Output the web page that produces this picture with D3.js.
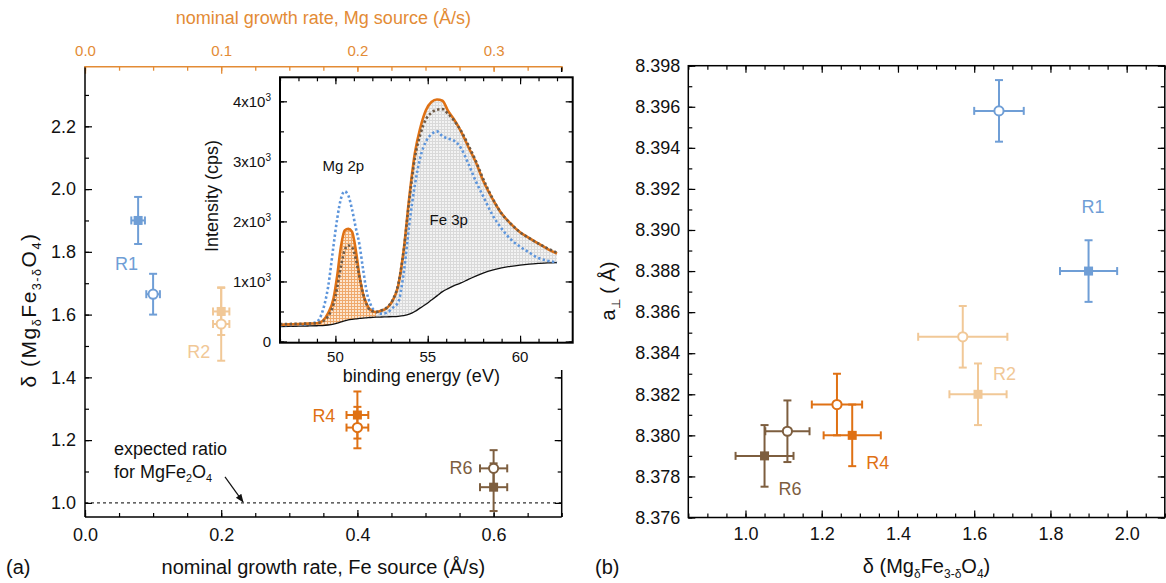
<!DOCTYPE html>
<html><head><meta charset="utf-8">
<script src="https://cdn.jsdelivr.net/npm/d3@7"></script>
<style>body{margin:0;background:#fff} text{font-family:"Liberation Sans",Arial,Helvetica,sans-serif}</style>
</head><body><svg id="c" width="1166" height="583"></svg>
<script>
// ---------------- data ----------------
const samples = ["R1", "R2", "R4", "R6"];
const feRateSq = [0.078, 0.20, 0.40, 0.60];
const feRateCi = [0.100, 0.20, 0.40, 0.60];
const feRateErr = [0.010, 0.012, 0.016, 0.020];
const deltaSq = [1.90, 1.61, 1.28, 1.05];
const deltaSqErr = [0.075, 0.075, 0.075, 0.076];
const deltaCi = [1.665, 1.57, 1.24, 1.11];
const deltaCiErr = [0.065, 0.117, 0.066, 0.058];
const aPerpSq = [8.3880, 8.3820, 8.3800, 8.3790];
const aPerpCi = [8.3958, 8.3848, 8.3815, 8.3802];
const aPerpErr = [0.0015, 0.0015, 0.0015, 0.0015];
const expectedDelta = 1.0;

// XPS inset spectra
const energy =        [47.0,47.5,48.0,48.5,49.0,49.3,49.6,49.9,50.1,50.3,50.5,50.7,50.9,51.1,51.3,51.5,51.7,51.9,52.2,52.5,52.8,53.1,53.4,53.7,54.0,54.3,54.6,54.9,55.2,55.5,55.8,56.1,56.4,56.8,57.2,57.6,58.0,58.5,59.0,59.5,60.0,60.5,61.0,61.5,62.0];
const specOrange =    [ 280, 285, 290, 298, 305, 340, 470, 720,1100,1580,1850,1875,1830,1530,1100, 790, 620, 525, 490, 515, 560, 680, 930,1530,2400,3130,3560,3850,3990,4030,4010,3840,3710,3500,3240,2990,2680,2380,2130,1960,1820,1720,1630,1540,1465];
const specBrown =     [ 290, 292, 295, 300, 305, 330, 420, 620, 900,1250,1520,1600,1570,1380,1080, 800, 610, 520, 495, 520, 570, 690, 950,1520,2350,3050,3450,3700,3810,3860,3870,3790,3690,3510,3270,3010,2710,2390,2130,1960,1820,1720,1630,1550,1480];
const specBlue =      [ 270, 275, 280, 290, 330, 500, 900,1600,2050,2380,2500,2430,2200,1900,1620,1200, 820, 620, 490, 465, 480, 560, 650,1150,1950,2600,3070,3330,3450,3500,3420,3380,3350,3220,2960,2670,2420,2110,1880,1700,1580,1480,1390,1345,1315];
const specBackground= [ 250, 252, 255, 258, 262, 266, 275, 290, 305, 325, 345, 360, 370, 378, 384, 390, 395, 400, 405, 408, 411, 414, 420, 432, 455, 500, 560, 620, 690, 760, 830, 880, 925, 975,1035,1090,1140,1190,1225,1252,1272,1288,1300,1310,1315];

// tick labels
const feTicks = [0.0, 0.2, 0.4, 0.6];
const mgTicks = [0.0, 0.1, 0.2, 0.3];
const deltaTicksA = [1.0, 1.2, 1.4, 1.6, 1.8, 2.0, 2.2];
const deltaTicksB = [1.0, 1.2, 1.4, 1.6, 1.8, 2.0];
const aTicks = [8.376, 8.378, 8.380, 8.382, 8.384, 8.386, 8.388, 8.390, 8.392, 8.394, 8.396, 8.398];
const eTicks = [50, 55, 60];
const iTicks = [0, 1000, 2000, 3000, 4000];

// ---------------- style ----------------
const colors = ["#6f9ed6", "#f1c897", "#df7114", "#7d5e3f"];
const mgColor = "#e38b35";
const FONT = 18;

const svg = d3.select("#c");
const defs = svg.append("defs");

// helpers
function addSubText(sel, parts, size) {
  let pending = 0;
  parts.forEach(p => {
    const t = sel.append("tspan").text(p[0]);
    if (p[1] === "sub") {
      t.attr("font-size", size * 0.6).attr("dy", pending + size * 0.24);
      pending = -size * 0.24;
    } else if (p[1] === "sup") {
      t.attr("font-size", size * 0.62).attr("dy", pending - size * 0.42);
      pending = size * 0.42;
    } else {
      t.attr("font-size", size);
      if (pending !== 0) t.attr("dy", pending);
      pending = 0;
    }
  });
}
function minorAxis(axisFn, scale, step, size, g) {
  const [d0, d1] = scale.domain();
  const vals = d3.range(Math.ceil(Math.min(d0, d1) / step - 1e-9) * step, Math.max(d0, d1) + 1e-9, step);
  g.call(axisFn(scale).tickValues(vals).tickSizeInner(size).tickSizeOuter(0).tickFormat(""));
  g.select(".domain").remove();
  g.selectAll("text").remove();
  g.selectAll("line").attr("stroke", "#000").attr("stroke-width", 1.2);
}
function errBars(g, cx, cy, x0, x1, y0, y1, color, cap) {
  const gg = g.append("g").attr("stroke", color).attr("stroke-width", 2).attr("fill", "none");
  gg.append("line").attr("x1", x0).attr("x2", x1).attr("y1", cy).attr("y2", cy);
  gg.append("line").attr("x1", cx).attr("x2", cx).attr("y1", y0).attr("y2", y1);
  gg.append("line").attr("x1", x0).attr("x2", x0).attr("y1", cy - cap).attr("y2", cy + cap);
  gg.append("line").attr("x1", x1).attr("x2", x1).attr("y1", cy - cap).attr("y2", cy + cap);
  gg.append("line").attr("x1", cx - cap).attr("x2", cx + cap).attr("y1", y0).attr("y2", y0);
  gg.append("line").attr("x1", cx - cap).attr("x2", cx + cap).attr("y1", y1).attr("y2", y1);
}
function square(g, cx, cy, color) {
  g.append("rect").attr("x", cx - 4.5).attr("y", cy - 4.5).attr("width", 9).attr("height", 9).attr("fill", color);
}
function circle(g, cx, cy, color) {
  g.append("circle").attr("cx", cx).attr("cy", cy).attr("r", 4.6).attr("fill", "#fff").attr("stroke", color).attr("stroke-width", 2);
}

// ================= PANEL (a) =================
const aL = 85, aR = 561.7, aT = 66.7, aB = 517;
const xA = d3.scaleLinear([0, 0.7], [aL, aR]);
const xTop = d3.scaleLinear([0, 0.35], [aL, aR]);
const yA = d3.scaleLinear([0.955, 2.39], [aB, aT]);

const gA = svg.append("g");

gA.append("line").attr("x1", aL).attr("x2", aR).attr("y1", yA(expectedDelta)).attr("y2", yA(expectedDelta))
  .attr("stroke", "#333").attr("stroke-width", 1.3).attr("stroke-dasharray", "3,3");

minorAxis(d3.axisBottom, xA, 0.05, -4, gA.append("g").attr("transform", `translate(0,${aB})`));
minorAxis(d3.axisLeft, yA, 0.1, -4, gA.append("g").attr("transform", `translate(${aL},0)`));
minorAxis(d3.axisRight, yA, 0.1, -4, gA.append("g").attr("transform", `translate(${aR},0)`));
minorAxis(d3.axisLeft, yA, 0.2, -7, gA.append("g").attr("transform", `translate(${aL},0)`));
minorAxis(d3.axisRight, yA, 0.2, -7, gA.append("g").attr("transform", `translate(${aR},0)`));
minorAxis(d3.axisBottom, xA, 0.2, -7, gA.append("g").attr("transform", `translate(0,${aB})`));

const axBA = gA.append("g").attr("transform", `translate(0,${aB})`)
  .call(d3.axisBottom(xA).tickValues(feTicks).tickSize(0).tickPadding(11).tickFormat(d3.format(".1f")));
axBA.select(".domain").remove();
axBA.selectAll("text").attr("font-size", FONT).attr("fill", "#111");

const axLA = gA.append("g").attr("transform", `translate(${aL},0)`)
  .call(d3.axisLeft(yA).tickValues(deltaTicksA).tickSize(0).tickPadding(9).tickFormat(d3.format(".1f")));
axLA.select(".domain").remove();
axLA.selectAll("text").attr("font-size", FONT).attr("fill", "#111");

{
  const axTA = gA.append("g").attr("transform", `translate(0,${aT})`);
  const vals = d3.range(0, 0.3501, 0.025);
  axTA.call(d3.axisTop(xTop).tickValues(vals).tickSizeInner(-4).tickSizeOuter(0).tickFormat(""));
  axTA.select(".domain").remove();
  axTA.selectAll("text").remove();
  axTA.selectAll("line").attr("stroke", mgColor).attr("stroke-width", 1.3);
  const ax2 = gA.append("g").attr("transform", `translate(0,${aT})`)
    .call(d3.axisTop(xTop).tickValues(mgTicks).tickSizeInner(-7).tickSizeOuter(0).tickPadding(11).tickFormat(d3.format(".1f")));
  ax2.select(".domain").remove();
  ax2.selectAll("line").attr("stroke", mgColor).attr("stroke-width", 1.3);
  ax2.selectAll("text").attr("font-size", 15).attr("fill", mgColor);
}

gA.append("line").attr("x1", aL).attr("x2", aL).attr("y1", aT).attr("y2", aB).attr("stroke", "#000").attr("stroke-width", 1.5);
gA.append("line").attr("x1", aR).attr("x2", aR).attr("y1", aT).attr("y2", aB).attr("stroke", "#000").attr("stroke-width", 1.5);
gA.append("line").attr("x1", aL).attr("x2", aR).attr("y1", aB).attr("y2", aB).attr("stroke", "#000").attr("stroke-width", 1.5);
gA.append("line").attr("x1", aL - 0.75).attr("x2", aR + 0.75).attr("y1", aT).attr("y2", aT).attr("stroke", mgColor).attr("stroke-width", 1.5);

samples.forEach((s, i) => {
  const c = colors[i];
  errBars(gA, xA(feRateSq[i]), yA(deltaSq[i]), xA(feRateSq[i] - feRateErr[i]), xA(feRateSq[i] + feRateErr[i]),
    yA(deltaSq[i] + deltaSqErr[i]), yA(deltaSq[i] - deltaSqErr[i]), c, 4);
  errBars(gA, xA(feRateCi[i]), yA(deltaCi[i]), xA(feRateCi[i] - feRateErr[i]), xA(feRateCi[i] + feRateErr[i]),
    yA(deltaCi[i] + deltaCiErr[i]), yA(deltaCi[i] - deltaCiErr[i]), c, 4);
});
samples.forEach((s, i) => {
  square(gA, xA(feRateSq[i]), yA(deltaSq[i]), colors[i]);
  circle(gA, xA(feRateCi[i]), yA(deltaCi[i]), colors[i]);
});

const labOffA = [
  {ref: "sq", dx: -23, dy: 50, anchor: "start"},
  {ref: "ci", dx: -34, dy: 34, anchor: "start"},
  {ref: "sq", dx: -22, dy: 7, anchor: "end"},
  {ref: "ci", dx: -21, dy: 6, anchor: "end"}
];
samples.forEach((s, i) => {
  const o = labOffA[i];
  const px = o.ref === "sq" ? xA(feRateSq[i]) : xA(feRateCi[i]);
  const py = o.ref === "sq" ? yA(deltaSq[i]) : yA(deltaCi[i]);
  gA.append("text").attr("x", px + o.dx).attr("y", py + o.dy).attr("text-anchor", o.anchor)
    .attr("font-size", FONT).attr("fill", colors[i]).text(s);
});

{
  gA.append("text").attr("x", 114).attr("y", 455).attr("font-size", FONT).attr("fill", "#111").text("expected ratio");
  const t2 = gA.append("text").attr("x", 114).attr("y", 478).attr("fill", "#111");
  addSubText(t2, [["for MgFe"], ["2", "sub"], ["O"], ["4", "sub"]], FONT);
  defs.append("marker").attr("id", "ah").attr("viewBox", "0 0 10 10").attr("refX", 9).attr("refY", 5)
    .attr("markerWidth", 7).attr("markerHeight", 7).attr("orient", "auto")
    .append("path").attr("d", "M0,1 L10,5 L0,9 z").attr("fill", "#111");
  const ax = xA(0.232), ay = yA(expectedDelta);
  gA.append("line").attr("x1", ax - 18).attr("y1", ay - 26).attr("x2", ax).attr("y2", ay - 1)
    .attr("stroke", "#111").attr("stroke-width", 1.2).attr("marker-end", "url(#ah)");
}

svg.append("text").attr("x", (aL + aR) / 2).attr("y", 574).attr("text-anchor", "middle").attr("font-size", 20).attr("fill", "#111")
  .text("nominal growth rate, Fe source (\u00c5/s)");
svg.append("text").attr("x", (aL + aR) / 2).attr("y", 24).attr("text-anchor", "middle").attr("font-size", 18).attr("fill", mgColor)
  .text("nominal growth rate, Mg source (\u00c5/s)");
{
  const t = svg.append("text").attr("transform", "translate(36,310) rotate(-90)").attr("text-anchor", "middle")
    .attr("letter-spacing", 1.5).attr("fill", "#111");
  addSubText(t, [["\u03b4 (Mg"], ["\u03b4", "sub"], ["Fe"], ["3-\u03b4", "sub"], ["O"], ["4", "sub"], [")"]], 21);
}
svg.append("text").attr("x", 6).attr("y", 574).attr("font-size", 20).attr("fill", "#111").text("(a)");

// ================= INSET =================
const iL = 280, iR = 572.7, iT = 77.3, iB = 342.7;
const xI = d3.scaleLinear([47, 62.85], [iL, iR]);
const yI = d3.scaleLinear([-20, 4400], [iB, iT]);
const gI = svg.append("g");
gI.append("rect").attr("x", 240).attr("y", 72).attr("width", 340).attr("height", 298).attr("fill", "#fff");

const pOr = defs.append("pattern").attr("id", "pOr").attr("width", 3).attr("height", 3).attr("patternUnits", "userSpaceOnUse");
pOr.append("rect").attr("width", 3).attr("height", 3).attr("fill", "#fce6d0");
pOr.append("path").attr("d", "M0,0.5H3M0.5,0V3").attr("stroke", "#efa96c").attr("stroke-width", 1);
const pGr = defs.append("pattern").attr("id", "pGr").attr("width", 3).attr("height", 3).attr("patternUnits", "userSpaceOnUse");
pGr.append("rect").attr("width", 3).attr("height", 3).attr("fill", "#f3f3f3");
pGr.append("path").attr("d", "M0,0.5H3M0.5,0V3").attr("stroke", "#d9d9d9").attr("stroke-width", 1);

const idx = energy.map((e, i) => i);
const mgIdx = idx.filter(i => energy[i] >= 49.0 && energy[i] <= 52.2);
const feIdx = idx.filter(i => energy[i] >= 52.2);
const area = d3.area().x(i => xI(energy[i])).y0(i => yI(specBackground[i])).y1(i => yI(specOrange[i])).curve(d3.curveMonotoneX);
gI.append("path").attr("d", area(mgIdx)).attr("fill", "url(#pOr)");
gI.append("path").attr("d", area(feIdx)).attr("fill", "url(#pGr)");

const lineOf = arr => d3.line().x(i => xI(energy[i])).y(i => yI(arr[i])).curve(d3.curveMonotoneX)(idx);
gI.append("path").attr("d", lineOf(specBackground)).attr("fill", "none").attr("stroke", "#111").attr("stroke-width", 1.3);
gI.append("path").attr("d", lineOf(specBlue)).attr("fill", "none").attr("stroke", "#5d95db").attr("stroke-width", 2.6).attr("stroke-dasharray", "2.4,2.4");
gI.append("path").attr("d", lineOf(specOrange)).attr("fill", "none").attr("stroke", "#df7114").attr("stroke-width", 2.6);
gI.append("path").attr("d", lineOf(specBrown)).attr("fill", "none").attr("stroke", "#6e5a47").attr("stroke-width", 2.6).attr("stroke-dasharray", "2.4,2.4");

function insetTicks(axisFn, scale, step, size, tr) {
  minorAxis(axisFn, scale, step, size, gI.append("g").attr("transform", tr));
}
insetTicks(d3.axisBottom, xI, 1, -4, `translate(0,${iB})`);
insetTicks(d3.axisTop, xI, 1, -4, `translate(0,${iT})`);
insetTicks(d3.axisBottom, xI, 5, -7, `translate(0,${iB})`);
insetTicks(d3.axisTop, xI, 5, -7, `translate(0,${iT})`);
insetTicks(d3.axisLeft, yI, 500, -4, `translate(${iL},0)`);
insetTicks(d3.axisRight, yI, 500, -4, `translate(${iR},0)`);
insetTicks(d3.axisLeft, yI, 1000, -7, `translate(${iL},0)`);
insetTicks(d3.axisRight, yI, 1000, -7, `translate(${iR},0)`);
gI.append("rect").attr("x", iL).attr("y", iT).attr("width", iR - iL).attr("height", iB - iT).attr("fill", "none").attr("stroke", "#000").attr("stroke-width", 2);

eTicks.forEach(v => gI.append("text").attr("x", xI(v)).attr("y", iB + 19).attr("text-anchor", "middle").attr("font-size", 15).attr("fill", "#111").text(v));
iTicks.forEach(v => {
  const t = gI.append("text").attr("x", iL - 9).attr("y", yI(v) + 5.5).attr("text-anchor", "end").attr("font-size", 15).attr("fill", "#111");
  if (v === 0) t.text("0");
  else { t.append("tspan").text(`${v / 1000}x10`); t.append("tspan").attr("font-size", 10).attr("dy", -6).text("3"); }
});
gI.append("text").attr("x", (iL + iR) / 2 - 5).attr("y", 382).attr("text-anchor", "middle").attr("font-size", 18).attr("fill", "#111").text("binding energy (eV)");
gI.append("text").attr("transform", `translate(218,${(iT + iB) / 2 - 14}) rotate(-90)`).attr("text-anchor", "middle").attr("font-size", 18).attr("fill", "#111").text("Intensity (cps)");
gI.append("text").attr("x", xI(49.3)).attr("y", 171).attr("font-size", 15).attr("fill", "#111").text("Mg 2p");
gI.append("text").attr("x", xI(55.1)).attr("y", 225).attr("font-size", 15).attr("fill", "#111").text("Fe 3p");

// ================= PANEL (b) =================
const bL = 688.3, bR = 1164.8, bT = 65.7, bB = 517.5;
const xB = d3.scaleLinear([0.85, 2.1], [bL, bR]);
const yB = d3.scaleLinear([8.376, 8.398], [bB, bT]);
const gB = svg.append("g");

minorAxis(d3.axisBottom, xB, 0.05, -4, gB.append("g").attr("transform", `translate(0,${bB})`));
minorAxis(d3.axisTop, xB, 0.05, -4, gB.append("g").attr("transform", `translate(0,${bT})`));
minorAxis(d3.axisBottom, xB, 0.2, -7, gB.append("g").attr("transform", `translate(0,${bB})`));
minorAxis(d3.axisTop, xB, 0.2, -7, gB.append("g").attr("transform", `translate(0,${bT})`));
minorAxis(d3.axisLeft, yB, 0.001, -4, gB.append("g").attr("transform", `translate(${bL},0)`));
minorAxis(d3.axisRight, yB, 0.001, -4, gB.append("g").attr("transform", `translate(${bR},0)`));
minorAxis(d3.axisLeft, yB, 0.002, -7, gB.append("g").attr("transform", `translate(${bL},0)`));
minorAxis(d3.axisRight, yB, 0.002, -7, gB.append("g").attr("transform", `translate(${bR},0)`));
gB.append("rect").attr("x", bL).attr("y", bT).attr("width", bR - bL).attr("height", bB - bT).attr("fill", "none").attr("stroke", "#000").attr("stroke-width", 1.5);

const axBB = gB.append("g").attr("transform", `translate(0,${bB})`)
  .call(d3.axisBottom(xB).tickValues(deltaTicksB).tickSize(0).tickPadding(10).tickFormat(d3.format(".1f")));
axBB.select(".domain").remove();
axBB.selectAll("text").attr("font-size", FONT).attr("fill", "#111");
const axLB = gB.append("g").attr("transform", `translate(${bL},0)`)
  .call(d3.axisLeft(yB).tickValues(aTicks).tickSize(0).tickPadding(8).tickFormat(d3.format(".3f")));
axLB.select(".domain").remove();
axLB.selectAll("text").attr("font-size", FONT).attr("fill", "#111");

samples.forEach((s, i) => {
  const c = colors[i];
  errBars(gB, xB(deltaSq[i]), yB(aPerpSq[i]), xB(deltaSq[i] - deltaSqErr[i]), xB(deltaSq[i] + deltaSqErr[i]),
    yB(aPerpSq[i] + aPerpErr[i]), yB(aPerpSq[i] - aPerpErr[i]), c, 4);
  errBars(gB, xB(deltaCi[i]), yB(aPerpCi[i]), xB(deltaCi[i] - deltaCiErr[i]), xB(deltaCi[i] + deltaCiErr[i]),
    yB(aPerpCi[i] + aPerpErr[i]), yB(aPerpCi[i] - aPerpErr[i]), c, 4);
});
samples.forEach((s, i) => {
  square(gB, xB(deltaSq[i]), yB(aPerpSq[i]), colors[i]);
  circle(gB, xB(deltaCi[i]), yB(aPerpCi[i]), colors[i]);
});
const labOffB = [
  {dx: -7, dy: -58},
  {dx: 15, dy: -14},
  {dx: 14, dy: 34},
  {dx: 14, dy: 39}
];
samples.forEach((s, i) => {
  const o = labOffB[i];
  gB.append("text").attr("x", xB(deltaSq[i]) + o.dx).attr("y", yB(aPerpSq[i]) + o.dy)
    .attr("font-size", FONT).attr("fill", colors[i]).text(s);
});

{
  const t = svg.append("text").attr("x", (bL + bR) / 2).attr("y", 573).attr("text-anchor", "middle").attr("fill", "#111");
  addSubText(t, [["\u03b4 (Mg"], ["\u03b4", "sub"], ["Fe"], ["3-\u03b4", "sub"], ["O"], ["4", "sub"], [")"]], 20);
}
{
  const t = svg.append("text").attr("transform", "translate(615,291) rotate(-90)").attr("text-anchor", "middle").attr("fill", "#111");
  addSubText(t, [["a"], ["\u22a5", "sub"], [" ( \u00c5)"]], 20);
}
svg.append("text").attr("x", 595).attr("y", 574).attr("font-size", 20).attr("fill", "#111").text("(b)");
</script></body></html>
